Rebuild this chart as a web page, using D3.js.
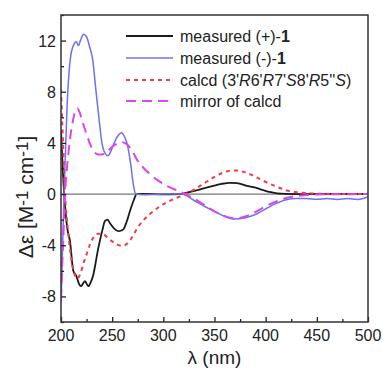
<!DOCTYPE html>
<html>
<head>
<meta charset="utf-8">
<script src="https://cdn.jsdelivr.net/npm/d3@7"></script>
<style>
  body { margin: 0; background: #fff; }
  svg { font-family: Arial, "Liberation Sans", sans-serif; }
</style>
</head>
<body>
<div id="chart"></div>
<script>
// CD spectra, [wavelength nm, delta epsilon]
const measuredPlus = [
  [200, 5], [202, 1.5], [204, -1], [206, -2.6], [208.8, -3.7], [212, -6.0], [215, -6.4],
  [217, -6.9], [219.5, -7.2], [221.5, -7.0], [223.5, -6.8], [225, -7.0], [226.7, -7.2],
  [229, -6.9], [231.6, -6.3], [234, -5.3], [236, -4.4], [238, -3.65], [240.5, -2.8],
  [243, -2.1], [245.5, -2.0], [248, -2.3], [252, -2.7], [256, -2.9], [259, -2.85],
  [261, -2.75], [264, -2.2], [267.5, -1.3], [271, -0.5], [274, 0], [280, 0.02],
  [300, -0.02], [316, 0], [325, 0.15], [335, 0.35], [349, 0.65], [357, 0.8], [365, 0.88],
  [372, 0.85], [381.5, 0.65], [390, 0.5], [398, 0.3], [405, 0.15], [411, 0.06],
  [420, 0.02], [440, 0], [470, 0.02], [500, 0]
];
const measuredMinus = [
  [200, -8.5], [203, 0], [206, 7], [209, 10.5], [212, 11.6], [215, 11.9], [217, 11.6],
  [219, 12.0], [222, 12.5], [225, 12.3], [228, 11.5], [231, 10.5], [234, 8.2], [237, 6.0],
  [240, 4.0], [243, 3.2], [246, 3.0], [249, 3.4], [252, 4.0], [256, 4.6], [259, 4.8],
  [262, 4.5], [265, 3.8], [268, 2.4], [271, 0.6], [273, 0], [280, -0.05], [300, 0],
  [318, 0], [330, -0.5], [340, -0.95], [350, -1.35], [360, -1.75], [370, -1.95],
  [380, -1.85], [390, -1.6], [400, -1.15], [410, -0.75], [420, -0.45], [430, -0.35],
  [440, -0.35], [450, -0.4], [460, -0.35], [470, -0.42], [480, -0.35], [490, -0.42],
  [495, -0.35], [500, -0.2]
];
const calcd = [
  [200, 8.2], [202, 4], [204, 0], [207, -3], [210, -5], [213, -6.2], [216, -6.6],
  [219, -6.2], [222, -5.4], [225, -4.7], [228, -4.0], [232, -3.35], [236, -3.1],
  [240, -3.1], [245, -3.35], [250, -3.7], [255, -3.95], [260, -4.05], [265, -3.85],
  [270, -3.3], [275, -2.6], [280, -2.1], [287, -1.55], [295, -1.05], [303, -0.65],
  [310, -0.4], [318, -0.13], [325, 0.15], [330, 0.35], [340, 0.85], [350, 1.35],
  [360, 1.72], [370, 1.85], [380, 1.7], [390, 1.35], [400, 0.95], [410, 0.6], [420, 0.3],
  [430, 0.15], [440, 0.08], [450, 0.03], [470, 0.01], [500, 0]
];
const mirrorCalcd = [
  [200, -8.2], [202, -4], [204, 0], [207, 3], [210, 5], [213, 6.2], [216, 6.7],
  [219, 6.2], [222, 5.4], [225, 4.7], [228, 4.0], [232, 3.35], [236, 3.1],
  [240, 3.1], [245, 3.3], [250, 3.7], [255, 3.95], [260, 4.05], [265, 3.85],
  [270, 3.3], [275, 2.6], [280, 2.1], [287, 1.55], [295, 1.05], [303, 0.65],
  [310, 0.4], [318, 0.13], [325, -0.15], [330, -0.35], [340, -0.85], [350, -1.35],
  [360, -1.72], [370, -1.9], [380, -1.75], [390, -1.4], [400, -0.95], [410, -0.6],
  [420, -0.3], [430, -0.15], [440, -0.08], [450, -0.03], [470, -0.01], [500, 0]
];
const xTicks = [200, 250, 300, 350, 400, 450, 500];
const yTicks = [-8, -4, 0, 4, 8, 12];

const width = 383, height = 370;
const margin = {left: 61, right: 15, top: 15, bottom: 48};

const svg = d3.select("#chart").append("svg")
  .attr("width", width)
  .attr("height", height);

const x = d3.scaleLinear().domain([200, 500]).range([margin.left, width - margin.right]);
const y = d3.scaleLinear().domain([-10, 14]).range([height - margin.bottom, margin.top]);

const line = d3.line().curve(d3.curveMonotoneX).x(d => x(d[0])).y(d => y(d[1]));

// clip
svg.append("clipPath").attr("id", "clip").append("rect")
  .attr("x", x(200)).attr("y", y(14))
  .attr("width", x(500) - x(200)).attr("height", y(-10) - y(14));

// zero line
svg.append("line")
  .attr("x1", x(200)).attr("x2", x(500))
  .attr("y1", y(0)).attr("y2", y(0))
  .attr("stroke", "#777").attr("stroke-width", 1.3);

const series = [
  {data: measuredPlus, color: "#1a1a1a", dash: null, w: 1.8},
  {data: measuredMinus, color: "#7070ee", dash: null, w: 1.5},
  {data: calcd, color: "#f23a4a", dash: "4,4", w: 2},
  {data: mirrorCalcd, color: "#dd44ee", dash: "10,6", w: 2}
];

const plot = svg.append("g").attr("clip-path", "url(#clip)");
plot.selectAll("path.curve").data(series).enter().append("path")
  .attr("class", "curve")
  .attr("d", d => line(d.data))
  .attr("fill", "none")
  .attr("stroke", d => d.color)
  .attr("stroke-width", d => d.w)
  .attr("stroke-dasharray", d => d.dash);

// axes with inner ticks
const xAxis = svg.append("g")
  .attr("transform", "translate(0," + y(-10) + ")")
  .call(d3.axisBottom(x).tickValues(d3.range(200, 501, 25)).tickSize(-5).tickFormat(""));
xAxis.selectAll(".tick line").attr("y2", (d) => d % 50 === 0 ? -5 : -3);
const yAxis = svg.append("g")
  .attr("transform", "translate(" + x(200) + ",0)")
  .call(d3.axisLeft(y).tickValues(d3.range(-10, 15, 2)).tickSize(-5).tickFormat(""));
yAxis.selectAll(".tick line").attr("x2", (d) => d % 4 === 0 ? 5 : 3);
svg.selectAll(".domain").remove();
svg.selectAll(".tick line").attr("stroke", "#222").attr("stroke-width", 1.3);

svg.selectAll("text.xt").data(xTicks).enter().append("text")
  .attr("class", "xt")
  .attr("x", d => x(d)).attr("y", y(-10) + 19)
  .attr("text-anchor", "middle")
  .attr("font-size", 16).attr("fill", "#222")
  .text(d => d);

svg.selectAll("text.yt").data(yTicks).enter().append("text")
  .attr("class", "yt")
  .attr("x", x(200) - 5).attr("y", d => y(d) + 6)
  .attr("text-anchor", "end")
  .attr("font-size", 16).attr("fill", "#222")
  .text(d => d);

// frame
svg.append("rect")
  .attr("x", x(200)).attr("y", y(14))
  .attr("width", x(500) - x(200)).attr("height", y(-10) - y(14))
  .attr("fill", "none").attr("stroke", "#333").attr("stroke-width", 1.5);

// axis titles
svg.append("text")
  .attr("x", (x(200) + x(500)) / 2).attr("y", 364)
  .attr("text-anchor", "middle").attr("font-size", 19).attr("fill", "#222")
  .text("λ (nm)");

const yl = svg.append("text")
  .attr("transform", "translate(33,197) rotate(-90)")
  .attr("text-anchor", "middle").attr("font-size", 21).attr("fill", "#222");
yl.append("tspan").text("Δε [M");
yl.append("tspan").attr("font-size", 17).attr("dy", -5).text("-1");
yl.append("tspan").attr("dy", 5).text(" cm");
yl.append("tspan").attr("font-size", 17).attr("dy", -5).text("-1");
yl.append("tspan").attr("dy", 5).text("]");

// legend
const legendRows = [36, 58, 80, 101];
const legend = svg.append("g");
series.forEach((s, i) => {
  legend.append("line")
    .attr("x1", 126).attr("x2", 173)
    .attr("y1", legendRows[i]).attr("y2", legendRows[i])
    .attr("stroke", s.color).attr("stroke-width", s.w)
    .attr("stroke-dasharray", s.dash);
});
const legendParts = [
  [["measured (+)-", ""], ["1", "b"]],
  [["measured (-)-", ""], ["1", "b"]],
  [["calcd (3'", ""], ["R", "i"], ["6'", ""], ["R", "i"], ["7'", ""], ["S", "i"], ["8'", ""], ["R", "i"], ["5''", ""], ["S", "i"], [")", ""]],
  [["mirror of calcd", ""]]
];
legendParts.forEach((parts, i) => {
  const t = legend.append("text")
    .attr("x", 180).attr("y", legendRows[i] + 6)
    .attr("font-size", 16).attr("fill", "#222");
  parts.forEach(p => {
    const ts = t.append("tspan").text(p[0]);
    if (p[1] === "b") ts.attr("font-weight", "bold");
    if (p[1] === "i") ts.attr("font-style", "italic");
  });
});
</script>
</body>
</html>
